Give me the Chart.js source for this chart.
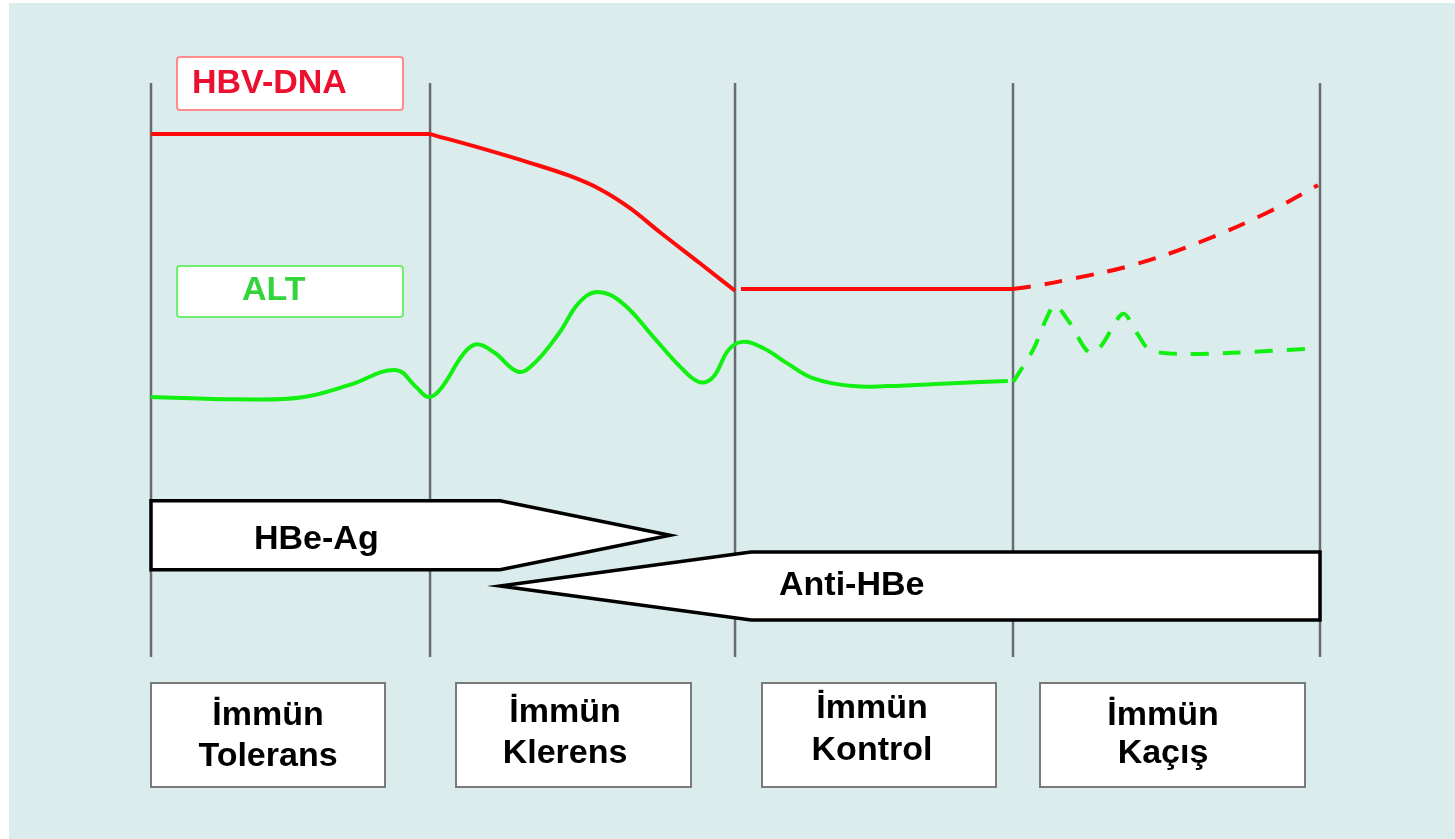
<!DOCTYPE html>
<html><head><meta charset="utf-8">
<script src="https://cdn.jsdelivr.net/npm/chart.js@4/dist/chart.umd.min.js"></script>
<style>html,body{margin:0;padding:0;background:#fff;overflow:hidden}canvas{display:block}</style>
</head><body>
<canvas id="c" width="1455" height="839"></canvas>
<script>
// ---- data (time axis 0..100, level axis 0..100) ----
const phaseBounds = [0, 23.87, 49.96, 73.74, 100];
const phaseNames = [['İmmün','Tolerans'],['İmmün','Klerens'],['İmmün','Kontrol'],['İmmün','Kaçış']];
const seriesNames = ['HBV-DNA', 'ALT'];
const markerNames = ['HBe-Ag', 'Anti-HBe'];

// HBV-DNA: plateau, fall, low plateau, dashed rise
const hbvHighX = [0, 23.87];
const hbvHighY = [91.1, 91.1];
const hbvFallX = [23.87, 28.14, 32.42, 35.84, 38.41, 40.98, 43.54, 46.96, 49.96];
const hbvFallY = [91.1, 88.7, 86.1, 83.8, 81.5, 78.2, 74.0, 68.6, 63.8];
const hbvLowX = [50.47, 73.74];
const hbvLowY = [64.1, 64.1];
const hbvDashX = [73.74, 75.45, 78.36, 84.0, 89.74, 95.47, 99.83];
const hbvDashY = [64.1, 64.6, 65.7, 68.3, 72.3, 77.4, 82.2];

// ALT
const altX = [0, 7.44, 12.8, 17.0, 20.9, 22.7, 23.7, 24.7, 26.8, 27.9, 29.4, 31.4, 32.8, 34.9, 36.6, 38.2, 40.3, 43.0, 45.3, 46.9, 48.1, 49.4, 50.6, 52.4, 54.4, 56.6, 60.1, 63.0, 68.6, 73.3];
const altY = [45.3, 44.9, 45.2, 47.4, 50.0, 47.0, 45.3, 46.5, 53.0, 54.5, 53.0, 49.7, 51.2, 56.4, 61.7, 63.6, 61.7, 55.7, 50.5, 47.9, 48.8, 53.5, 54.9, 53.8, 51.2, 48.6, 47.2, 47.2, 47.7, 48.1];
const altDashX = [73.74, 75.45, 76.65, 77.33, 78.6, 80.2, 81.2, 83.15, 84.35, 85.46, 88.3, 92.6, 99.1];
const altDashY = [47.9, 53.5, 59.2, 61.3, 58.2, 53.1, 54.0, 59.8, 56.4, 53.5, 52.8, 53.0, 53.7];

// marker periods: [start, shoulder, tip] in time units; [top, bottom] in level units
const hbeagSpan = [0, 29.86, 44.4];
const hbeagLevel = [27.2, 15.2];
const antiSpan = [100, 51.33, 29.86];
const antiLevel = [18.3, 6.45];

// ---- layout / styles ----
const BG = '#dbeced';
const FONT = 'bold 34px "Liberation Sans", Arial, sans-serif';
const legendBoxes = [
  {x0:177, y0:57, x1:403, y1:110, tx:192, ty:93, stroke:'#ff8c8c', color:'#ec1030'},
  {x0:177, y0:266, x1:403, y1:317, tx:242, ty:300, stroke:'#70ee70', color:'#33d43c'}
];
const markerText = [{tx:254, ty:549}, {tx:779, ty:595}];
const phaseBoxes = [
  {x0:151, x1:385, cx:268, b1:725, b2:766},
  {x0:456, x1:691, cx:565, b1:722, b2:763},
  {x0:762, x1:996, cx:872, b1:718, b2:760},
  {x0:1040, x1:1305, cx:1163, b1:725, b2:763}
];
const boxTop = 683, boxBottom = 787;

const toPts = (xs, ys) => xs.map((x, i) => ({x, y: ys[i]}));

const bgPlugin = {
  id: 'bg',
  beforeDraw(chart) {
    const c = chart.ctx;
    c.save();
    c.fillStyle = '#fff';
    c.fillRect(0, 0, chart.width, chart.height);
    c.fillStyle = BG;
    c.fillRect(9, 3, chart.width - 9, chart.height - 3);
    c.restore();
  }
};

function arrowPath(ctx, x, y, span, level) {
  const [s, sh, tip] = span.map(v => x.getPixelForValue(v));
  const [top, bot] = level.map(v => y.getPixelForValue(v));
  const mid = (top + bot) / 2;
  ctx.beginPath();
  ctx.moveTo(s, top);
  ctx.lineTo(sh, top);
  ctx.lineTo(tip, mid);
  ctx.lineTo(sh, bot);
  ctx.lineTo(s, bot);
  ctx.closePath();
  ctx.fillStyle = '#fff';
  ctx.fill();
  ctx.strokeStyle = '#000';
  ctx.lineWidth = 3.5;
  ctx.lineJoin = 'miter';
  ctx.stroke();
}

const phasePlugin = {
  id: 'phases',
  beforeDatasetsDraw(chart) {
    const {ctx, chartArea: a, scales: {x, y}} = chart;
    ctx.save();
    ctx.strokeStyle = '#686c72';
    ctx.lineWidth = 2.5;
    phaseBounds.forEach(v => {
      const px = x.getPixelForValue(v);
      ctx.beginPath();
      ctx.moveTo(px, a.top);
      ctx.lineTo(px, a.bottom);
      ctx.stroke();
    });
    arrowPath(ctx, x, y, hbeagSpan, hbeagLevel);
    arrowPath(ctx, x, y, antiSpan, antiLevel);
    ctx.font = FONT;
    ctx.fillStyle = '#000';
    ctx.textBaseline = 'alphabetic';
    ctx.textAlign = 'left';
    markerNames.forEach((n, i) => ctx.fillText(n, markerText[i].tx, markerText[i].ty));
    ctx.restore();
  },
  afterDraw(chart) {
    const ctx = chart.ctx;
    ctx.save();
    ctx.font = FONT;
    ctx.textBaseline = 'alphabetic';
    legendBoxes.forEach((b, i) => {
      ctx.fillStyle = '#fff';
      ctx.strokeStyle = b.stroke;
      ctx.lineWidth = 2;
      ctx.beginPath();
      ctx.roundRect(b.x0, b.y0, b.x1 - b.x0, b.y1 - b.y0, 3);
      ctx.fill();
      ctx.stroke();
      ctx.fillStyle = b.color;
      ctx.textAlign = 'left';
      ctx.fillText(seriesNames[i], b.tx, b.ty);
    });
    phaseBoxes.forEach((b, i) => {
      ctx.fillStyle = '#fff';
      ctx.strokeStyle = '#7a7a7a';
      ctx.lineWidth = 2;
      ctx.fillRect(b.x0, boxTop, b.x1 - b.x0, boxBottom - boxTop);
      ctx.strokeRect(b.x0, boxTop, b.x1 - b.x0, boxBottom - boxTop);
      ctx.fillStyle = '#000';
      ctx.textAlign = 'center';
      ctx.fillText(phaseNames[i][0], b.cx, b.b1);
      ctx.fillText(phaseNames[i][1], b.cx, b.b2);
    });
    ctx.restore();
  }
};

const RED = '#ff0a0a', GREEN = '#12f012';
const line = (label, xs, ys, color, extra) => Object.assign({
  label, data: toPts(xs, ys), borderColor: color, borderWidth: 4, pointRadius: 0, clip: false, tension: 0
}, extra || {});

new Chart(document.getElementById('c'), {
  type: 'line',
  data: {
    datasets: [
      line(seriesNames[0], hbvHighX, hbvHighY, RED),
      line(seriesNames[0], hbvFallX, hbvFallY, RED, {cubicInterpolationMode: 'monotone'}),
      line(seriesNames[0], hbvLowX, hbvLowY, RED),
      line(seriesNames[0], hbvDashX, hbvDashY, RED, {tension: 0.4, borderDash: [18, 14]}),
      line(seriesNames[1], altX, altY, GREEN, {tension: 0.4}),
      line(seriesNames[1], altDashX, altDashY, GREEN, {tension: 0.3, borderDash: [18, 14]})
    ]
  },
  options: {
    responsive: false,
    animation: false,
    devicePixelRatio: 1,
    layout: {padding: {left: 151, right: 135, top: 83, bottom: 182}},
    scales: {
      x: {type: 'linear', min: 0, max: 100, display: false},
      y: {type: 'linear', min: 0, max: 100, display: false}
    },
    plugins: {legend: {display: false}, tooltip: {enabled: false}}
  },
  plugins: [bgPlugin, phasePlugin]
});
</script>
</body></html>
